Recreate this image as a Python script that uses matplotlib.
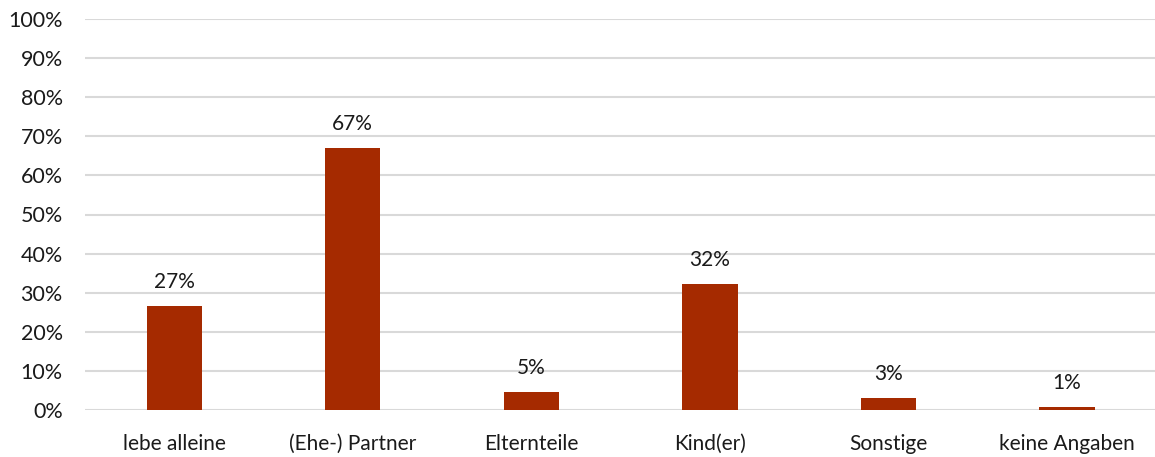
import matplotlib
matplotlib.use("Agg")
import matplotlib.pyplot as plt
from matplotlib.ticker import FuncFormatter

categories = ["lebe alleine", "(Ehe-) Partner", "Elternteile", "Kind(er)", "Sonstige", "keine Angaben"]
shares = [26.6, 67.1, 4.6, 32.3, 3.1, 0.8]
yticks = list(range(0, 101, 10))

bar_color = "#A52A00"
grid_color = "#D9D9D9"
text_color = "#1A1A1A"

plt.rcParams["font.family"] = ["Lato", "DejaVu Sans"]

fig = plt.figure(figsize=(11.55, 4.57), dpi=100)
ax = fig.add_axes([85 / 1155, 47 / 457, 1 - 85 / 1155 + 0.001, 391 / 457])

x = list(range(len(categories)))
ax.bar(x, shares, width=0.31, color=bar_color, zorder=3)

for xi, v in zip(x, shares):
    ax.annotate(f"{round(v):d}%", (xi, v), xytext=(0, 10), textcoords="offset points",
                ha="center", va="bottom", fontsize=15, color=text_color)

ax.set_xlim(-0.5, len(categories) - 0.5)
ax.set_ylim(0, 100)
ax.set_yticks(yticks)
ax.yaxis.set_major_formatter(FuncFormatter(lambda v, _: f"{v:.0f}%"))
ax.set_xticks(x)
ax.set_xticklabels(categories)

ax.grid(axis="y", color=grid_color, linewidth=1.5, zorder=0)
ax.set_axisbelow(True)
for s in ax.spines.values():
    s.set_visible(False)
ax.tick_params(axis="both", length=0, labelsize=15, colors=text_color)
ax.tick_params(axis="y", labelsize=15.5)
ax.tick_params(axis="x", pad=17)
ax.tick_params(axis="y", pad=16)

fig.savefig("out.png", dpi=100)
